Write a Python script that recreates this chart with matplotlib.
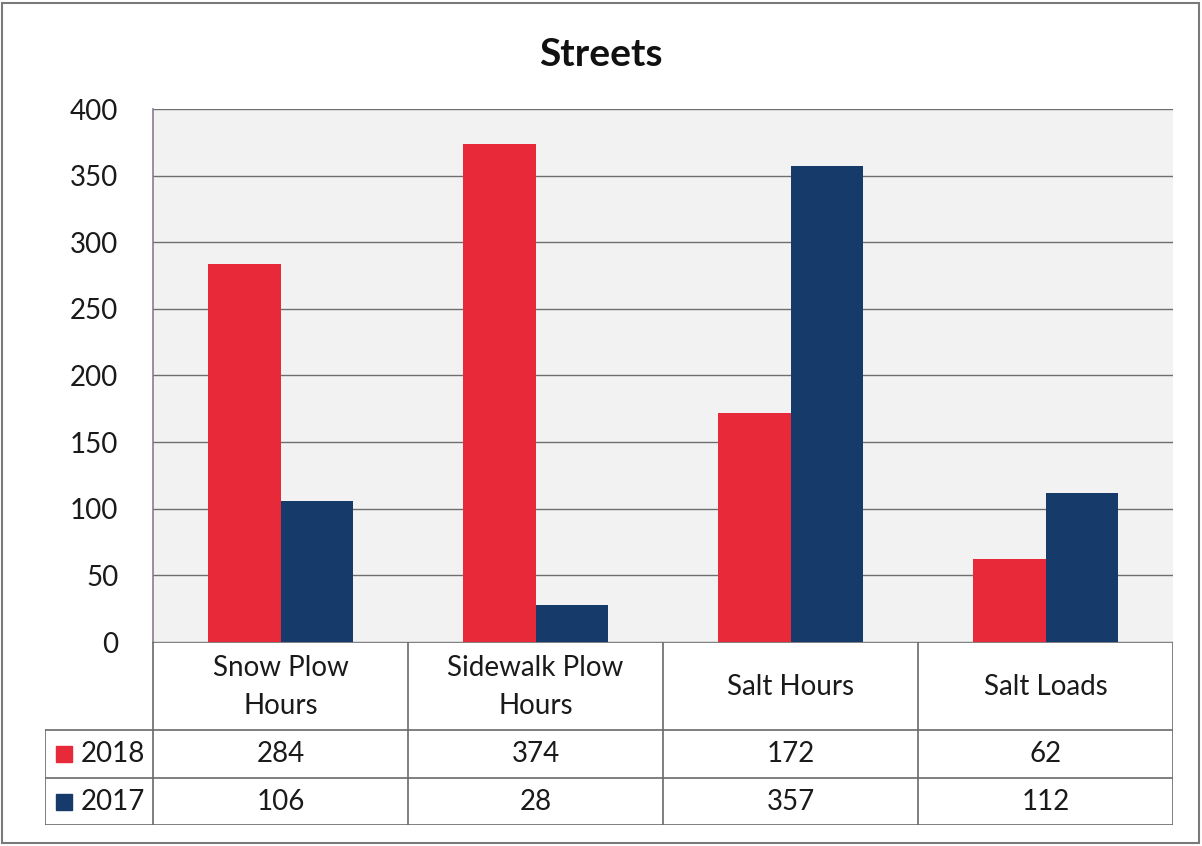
import matplotlib.pyplot as plt
from matplotlib.patches import Rectangle

categories = ["Snow Plow\nHours", "Sidewalk Plow\nHours", "Salt Hours", "Salt Loads"]
series_names = ["2018", "2017"]
values_2018 = [284, 374, 172, 62]
values_2017 = [106, 28, 357, 112]
yticks = [0, 50, 100, 150, 200, 250, 300, 350, 400]

red = '#e8293a'
navy = '#163a69'
colors = [red, navy]

plt.rcParams['font.family'] = ['Lato', 'DejaVu Sans']

W, H = 1202, 846
fig = plt.figure(figsize=(W / 100, H / 100), dpi=100)

# outer chart border
fig.patches.append(Rectangle((2 / W, 3 / H), 1 - 5 / W, 1 - 6 / H, transform=fig.transFigure,
                             fill=False, edgecolor='#7a7a7a', linewidth=1.5))

# plot area in pixel terms
left, right, top, bottom = 153, 1173, 109, 642
ax = fig.add_axes([left / W, 1 - bottom / H, (right - left) / W, (bottom - top) / H])
ax.set_facecolor('#f2f2f2')

n = len(categories)
xs = list(range(n))
width = 0.286
ax.bar([x - width / 2 for x in xs], values_2018, width, color=red, zorder=3)
ax.bar([x + width / 2 for x in xs], values_2017, width, color=navy, zorder=3)

ax.set_xlim(-0.5, n - 0.5)
ax.set_ylim(0, 400)
ax.set_yticks(yticks)
ax.set_yticklabels([str(t) for t in yticks], fontsize=20, color='#1a1a1a')
ax.set_xticks([])
ax.tick_params(axis='y', length=0, pad=25)
ax.grid(axis='y', color='#6e6e6e', linewidth=1.0, zorder=1)
for s in ['top', 'right', 'bottom']:
    ax.spines[s].set_visible(False)
ax.spines['left'].set_color('#8a7a96')
ax.spines['left'].set_linewidth(1.2)

fig.text(601 / W, 1 - 55 / H, "Streets", ha='center', va='center',
         fontsize=28, fontweight='bold', color='#111111')

# data table underneath
tab_left, tab_top, tab_bottom = 45, 642, 825
row_edges = [642, 730, 778, 825]
label_w = (left - tab_left) / ((right - left) / n)
tab = fig.add_axes([tab_left / W, 1 - tab_bottom / H, (right - tab_left) / W, (tab_bottom - tab_top) / H])
tab.set_xlim(-0.5 - label_w, n - 0.5)
tab.set_ylim(tab_bottom, tab_top)
tab.axis('off')

line_kw = dict(color='#6a6a6a', linewidth=1.2)
for i in range(n + 1):
    tab.plot([i - 0.5, i - 0.5], [tab_top, tab_bottom], **line_kw)
tab.plot([-0.5 - label_w, -0.5 - label_w], [row_edges[1], tab_bottom], **line_kw)
tab.plot([-0.5, n - 0.5], [tab_top, tab_top], **line_kw)
for y in row_edges[1:]:
    tab.plot([-0.5 - label_w, n - 0.5], [y, y], **line_kw)

for i, cat in enumerate(categories):
    tab.text(i, (row_edges[0] + row_edges[1]) / 2 + 1, cat, ha='center', va='center',
             fontsize=20, color='#1a1a1a', linespacing=1.55)

for r, (name, vals) in enumerate(zip(series_names, [values_2018, values_2017])):
    yc = (row_edges[r + 1] + row_edges[r + 2]) / 2
    for i, v in enumerate(vals):
        tab.text(i, yc, str(v), ha='center', va='center', fontsize=20, color='#1a1a1a')
    tab.plot([-0.5 - label_w + 0.075], [yc], marker='s', markersize=12, color=colors[r], linestyle='none')
    tab.text(-0.5 - 0.03, yc, name, ha='right', va='center', fontsize=20, color='#1a1a1a')

fig.savefig('out.png', dpi=100, facecolor='white')
